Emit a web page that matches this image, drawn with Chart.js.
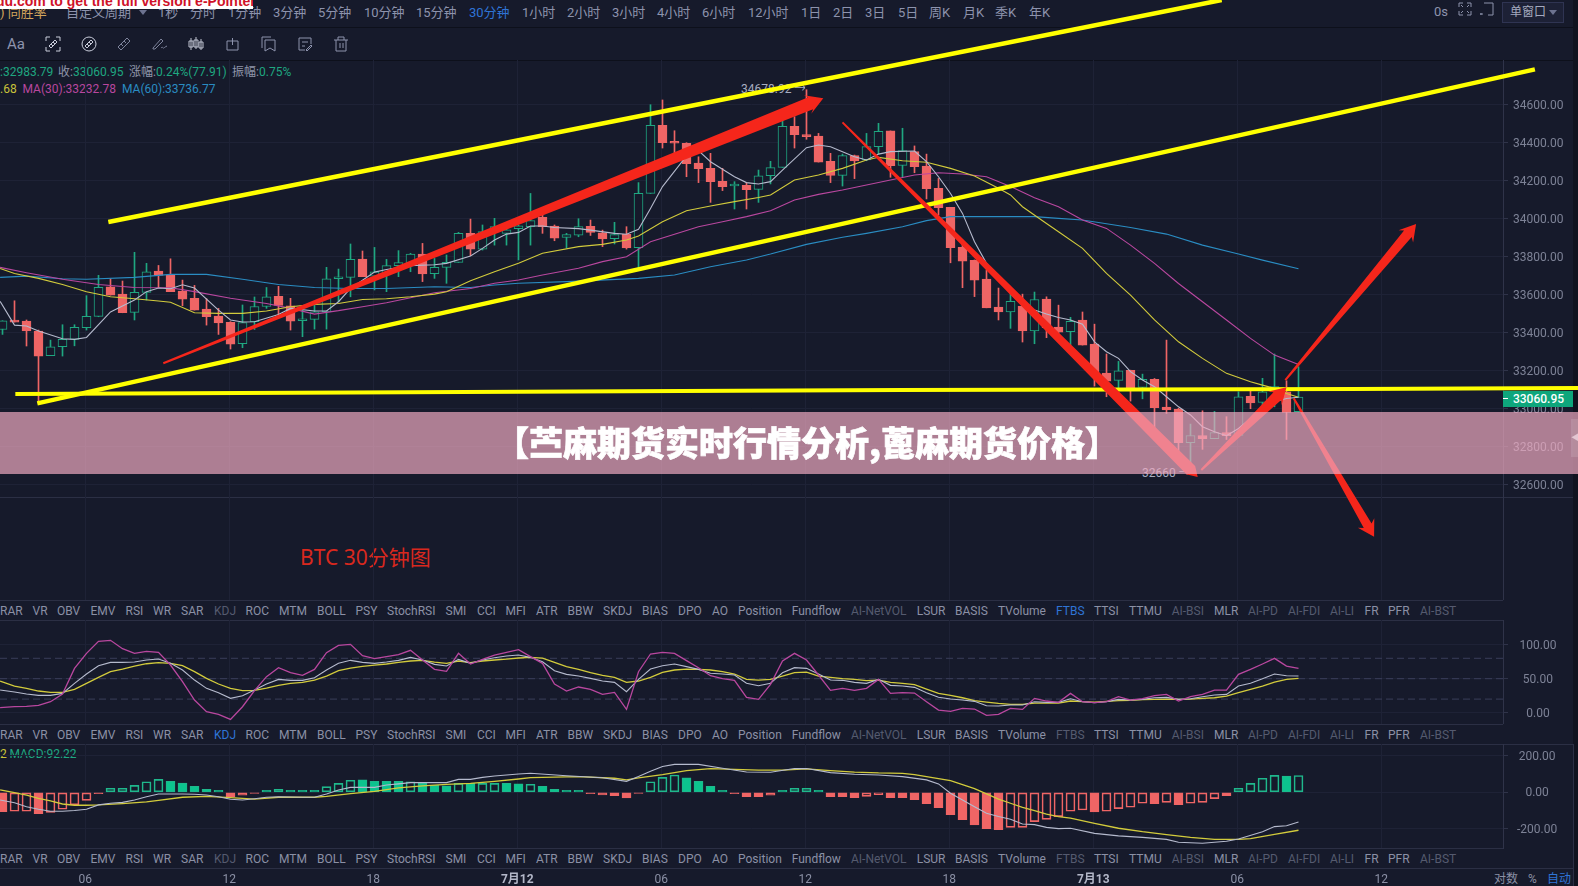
<!DOCTYPE html>
<html><head><meta charset="utf-8">
<script src="https://cdn.jsdelivr.net/npm/chart.js@4"></script>
<style>
html,body{margin:0;padding:0;background:#161a2b;width:1578px;height:886px;overflow:hidden}
#root{position:relative;width:1578px;height:886px;overflow:hidden;font-family:Roboto,"Noto Sans CJK SC",sans-serif}
.t{position:absolute;white-space:nowrap;line-height:16px;transform:translateY(-8px)}
.hl{position:absolute;left:0;height:1px;background:#2b2f44}
canvas{position:absolute;left:0;pointer-events:none}
</style></head><body><div id="root">
<canvas id="main" width="1578" height="600" style="top:0;z-index:3;width:1578px;height:600px"></canvas>
<canvas id="kdj" width="1578" height="104" style="top:620px;z-index:2;width:1578px;height:104px"></canvas>
<canvas id="macd" width="1578" height="142" style="top:744px;z-index:2;width:1578px;height:142px"></canvas>
</div>
<script>
// ---- candles (30 min), index 0..108
const opens=[33417,33467,33461,33409,33279,33326,33365,33426,33486,33642,33603,33507,33612,33724,33703,33619,33581,33524,33488,33454,33342,33458,33538,33591,33542,33463,33470,33510,33684,33691,33788,33698,33704,33753,33765,33814,33711,33744,33770,33923,33840,33940,33923,33948,33958,34007,33961,33902,33914,33960,33926,33895,33918,33847,34133,34491,34402,34397,34293,34265,34197,34172,34176,34154,34226,34270,34486,34442,34435,34302,34228,34332,34309,34379,34462,34281,34353,34277,34160,34060,33849,33781,33682,33535,33510,33540,33410,33577,33430,33405,33467,33340,33188,33149,33202,33112,33154,33009,32998,32821,32859,32842,32875,32859,33065,33033,33089,33089,32983.79];
const closes=[33463,33456,33409,33277,33326,33365,33428,33486,33639,33598,33505,33612,33721,33702,33616,33577,33519,33484,33451,33340,33453,33538,33589,33544,33461,33470,33510,33684,33691,33786,33695,33721,33753,33769,33814,33709,33744,33770,33923,33840,33932,33958,33941,33962,33990,33958,33898,33916,33958,33928,33893,33916,33846,34133,34491,34400,34397,34290,34263,34195,34169,34177,34153,34226,34269,34486,34442,34432,34298,34228,34332,34304,34379,34460,34279,34358,34274,34158,34058,33847,33777,33677,33531,33509,33565,33409,33575,33426,33403,33460,33335,33182,33145,33200,33107,33154,33005,32993,32821,32859,32842,32875,32858,33063,33031,33089,33116,32981,33060.95];
const highs=[33463,33568,33467,33414,33361,33442,33442,33595,33702,33684,33672,33823,33765,33754,33789,33677,33649,33579,33528,33458,33546,33588,33638,33644,33581,33537,33546,33744,33735,33867,33830,33849,33786,33832,33818,33870,33791,33809,33928,33998,33967,34002,33951,33965,34133,34028,33967,33923,34000,33993,33940,33981,33958,34190,34600,34625,34463,34400,34326,34344,34265,34195,34190,34256,34302,34523,34537,34678.92,34449,34344,34340,34335,34449,34502,34462,34476,34383,34340,34212,34060,33870,33783,33730,33635,33603,33603,33614,33589,33545,33481,33509,33445,33288,33249,33203,33182,33159,33361,33002,32919,32989,32986,32958,33089,33093,33160,33288,33147,33221];
const lows=[33391,33456,33330,33031,33279,33277,33331,33414,33484,33598,33505,33467,33572,33638,33616,33542,33519,33440,33391,33314,33321,33417,33528,33493,33414,33379,33419,33419,33563,33589,33695,33625,33616,33695,33721,33669,33686,33660,33770,33805,33835,33861,33861,33783,33861,33923,33884,33846,33905,33912,33853,33867,33840,33739,34133,34372,34347,34221,34190,34086,34148,34051,34051,34086,34183,34270,34372,34418,34298,34190,34172,34211,34305,34340,34218,34221,34242,34104,34019,33768,33637,33590,33531,33467,33423,33351,33342,33374,33396,33335,33335,33119,33063,33107,33040,33052,32835,32975,32768,32660,32786,32842,32838,32858,33000,32984,33010,32838,32983];

// ---- moving averages: candle index + price
const ma5K=[-0.2,1,2,3,5,6,7,9,11,12,13,14,15,16,18,19,20,21,23,24,26,27,28,29,31,32,34,36,37,39,40,41,42,43,44,45,46,48,49,51,52,53,54,55,57,58,59,61,62,63,64,65,67,68,69,71,72,73,74,76,77,78,79,80,81,82,83,84,85,86,87,88,89,90,91,92,93,94,95,96,97,98,99,100,101,102,103,104,105,106,107,108];
const ma5P=[33565,33440,33435,33409,33368,33365,33375,33509,33572,33616,33635,33631,33652,33635,33519,33467,33456,33458,33496,33528,33514,33514,33563,33633,33719,33733,33753,33758,33765,33804,33844,33888,33919,33928,33962,33962,33954,33948,33940,33923,33918,33944,34054,34169,34330,34358,34300,34221,34190,34183,34195,34256,34374,34388,34379,34326,34309,34340,34353,34356,34300,34221,34133,34028,33879,33765,33677,33607,33545,33519,33498,33480,33467,33445,33352,33300,33265,33195,33151,33116,33063,33010,32967,32905,32879,32858,32896,32949,33002,33037,33054,33060];
const ma10K=[-0.2,1,3,5,7,9,11,13,14,16,18,20,22,24,26,28,30,32,34,36,37,39,41,43,45,48,50,52,53,55,57,59,61,63,64,66,68,70,72,73,75,77,79,81,83,84,85,87,88,90,92,94,96,98,100,102,104,105,106,107,108];
const ma10P=[33738,33712,33686,33654,33616,33589,33579,33567,33560,33505,33502,33502,33514,33537,33549,33554,33575,33579,33589,33603,33616,33674,33721,33765,33818,33853,33865,33888,33909,33984,34042,34067,34090,34112,34125,34204,34230,34265,34309,34323,34305,34297,34265,34225,34160,34125,34063,33975,33931,33844,33712,33598,33467,33352,33265,33186,33142,33124,33107,33080,33060];
const ma30K=[-0.2,2,5,8,11,14,16,19,22,24,26,28,30,32,34,36,39,41,43,45,48,50,52,54,56,58,60,62,64,66,68,70,72,74,76,78,80,82,84,86,88,90,92,94,96,98,100,102,104,106,108];
const ma30P=[33744,33716,33681,33654,33638,33637,33616,33581,33554,33528,33498,33516,33537,33558,33584,33610,33633,33660,33677,33704,33739,33774,33800,33879,33918,33958,33984,34011,34042,34098,34128,34151,34177,34204,34230,34242,34235,34221,34169,34110,34063,33993,33949,33861,33765,33659,33563,33467,33370,33282,33232.78];
const ma60K=[-0.2,2,5,7,11,14,17,20,23,26,29,32,36,39,41,43,47,53,56,59,62,64,67,70,72,75,77,79,82,86,88,90,94,97,100,103,105,108];
const ma60P=[33691,33698,33684,33681,33691,33707,33707,33681,33654,33638,33633,33633,33642,33638,33651,33660,33669,33686,33704,33747,33783,33814,33865,33902,33923,33958,33990,34011,34011,34011,34002,33993,33954,33919,33861,33814,33782,33736.77];

// ---- hand-drawn yellow lines: candle index + price
const channelTopK=[8.82,101.6], channelTopP=[33983,35151];
const channelLowK=[2.9,127.7], channelLowP=[33028,34786];
const supportK=[1.07,19.8,38.4,74.8,112.6,131.3], supportP=[33077,33083,33088,33098,33104,33109];
// ---- hand-drawn red arrows: candle index + price of tail and tip
const arrowTailK=[13.4,70.0,99.9,106.9,107.6], arrowTailP=[33239,34507,32677,33151,33055];
const arrowTipK=[68.4,99.6,107.0,117.8,114.3], arrowTipP=[34634,32641,33113,33972,32326];

// ---- KDJ
const kdjJ=[7.4,8.8,9.3,10.8,16.2,27.5,65.2,87.3,104.9,106.4,94.1,87.3,90.2,88.7,70.1,45.6,18.6,1.5,-2.4,-9.8,8.8,32.4,53,66.2,58.8,54.9,63.7,88.2,99,100.5,83.8,79.4,82.4,85.3,91.7,77.5,63.7,60.8,87.3,71.6,78.4,84.8,88.7,92.7,82.4,72.6,42.2,31.9,37.8,34.3,27,29.9,4.9,60.3,86.3,88.7,87.3,76.5,66.2,54.4,50,47.6,22.6,19.6,41.7,76,87.3,77.5,55.4,32.9,35.8,32.9,35.8,49,28.4,29.4,28.9,16.2,3.9,2,6.4,5.4,-3.9,-2.4,6.4,4.9,21.1,17.2,15.2,28.4,16.2,14.7,16.2,23.5,18.6,20.6,25,27,17.2,23.5,27,33.3,33.3,56.4,63.7,71.6,79.9,68.6,65.2];
const kdjK=[33.3,30.4,27.5,25.5,25.5,28.4,43.2,56.9,69.1,74,74,74.5,77.5,78.9,72.6,62.8,48,35.8,29.4,21.1,25,33.3,42.2,49,47.6,47.6,51.5,62.8,72.6,77,74,72.6,74.5,77,81.4,77.5,71.1,68.6,78.4,72.6,77.5,80.9,83.3,84.8,81.4,75,61.8,56.4,53.9,50.5,46.6,44.6,30.9,49,64.2,69.1,71.6,67.7,63.7,57.9,56.9,55.4,43.2,39.7,43.2,58.8,66.2,65.2,56.9,48,47.6,44.6,43.2,49,40.2,39.2,37.3,29.4,22.6,20.1,18.6,16.7,10.3,9.8,11.3,11.3,16.2,15.2,15.2,20.6,16.2,14.7,16.2,19.6,18.6,19.6,22,22.6,19.6,20.6,23.5,26,27,39.2,43.2,50,56.9,54.4,53.9];
const kdjD=[46.6,39.2,35.8,31.9,29.9,29.9,34.3,43.2,52,60.3,64.2,68.6,72,73.5,72.6,69.1,60.3,50.5,42.2,35.8,32.4,32.9,36.3,40.2,43.2,44.6,48,53.9,61.8,65.7,68.1,70.1,71.6,74,76,77,74.5,72.6,76,73.5,76,77.5,78.9,80.4,81.4,80.4,74,67.7,63.7,58.8,54.9,52,44.6,46.6,52,59.3,62.8,64.2,63.7,62.8,60.3,56.9,49,48,49,53.9,58.8,59.8,53.9,52,50,49,47.1,48,44.6,43.2,41.2,34.8,28.4,25.5,22,17.7,15.7,13.7,12.3,12.3,14.2,14.2,14.2,17.2,16.2,15.7,16.7,17.7,18.1,19.1,19.6,20.1,19.6,20.1,21.1,22,24.5,29.4,34.3,39.2,45.1,49,50.5];
const kdjLevels=[80,50,20];

// ---- MACD
const macdHist=[-106,-104,-104,-117,-110,-93,-69,-44,-8,22,22,38,58,71,60,51,33,16,11,-24,-16,-6,11,16,11,11,11,31,49,66,68,60,60,60,58,53,38,35,49,49,49,49,49,46,44,33,16,11,11,-7,-15,-18,-31,-6,58,82,95,79,60,33,11,-7,-24,-24,-16,11,22,22,11,-24,-24,-29,-22,-13,-29,-29,-40,-62,-84,-122,-150,-179,-199,-205,-192,-192,-161,-148,-133,-104,-97,-108,-104,-89,-82,-60,-62,-55,-68,-60,-55,-35,-18,22,49,77,93,89,92.22];
const macdHollow=[1,2,4,5,6,7,9,10,11,12,13,20,23,27,28,29,34,38,40,41,44,54,55,56,64,66,67,72,73,84,85,86,87,88,89,90,92,93,94,95,97,99,100,101,102,103,104,105,106,108];
const difK=[-0.2,1,2,3,4,5,6,7,8,9,10,11,12,13,15,16,17,18,19,20,21,22,23,25,26,27,28,29,31,32,33,34,37,38,39,40,41,43,44,47,50,52,53,54,55,56,58,60,62,64,66,67,69,71,73,75,77,78,79,80,81,82,83,84,85,86,87,88,89,91,93,95,97,98,100,102,103,105,106,107,108];
const difV=[-42,-57,-79,-93,-104,-104,-100,-93,-69,-60,-55,-42,-24,-9,-9,-11,-15,-24,-38,-42,-35,-27,-24,-27,-27,-9,13,27,27,40,46,53,53,71,71,82,89,100,104,91,80,60,86,115,141,153,153,132,111,110,130,130,108,99,95,86,68,46,-5,-42,-79,-115,-133,-148,-174,-177,-192,-199,-197,-225,-239,-247,-258,-274,-279,-268,-256,-216,-188,-183,-163];
const deaK=[-0.2,1,2,3,4,5,6,7,8,10,12,13,15,17,19,21,23,26,27,29,31,33,35,37,39,41,43,44,48,51,52,53,55,57,59,61,63,65,67,69,71,73,75,76,78,79,81,83,84,85,86,87,88,89,91,93,95,97,99,101,103,104,106,108];
const deaV=[13,-2,-16,-33,-47,-64,-71,-71,-69,-62,-53,-44,-27,-22,-29,-37,-27,-27,-22,-7,5,24,35,44,49,60,73,80,86,77,68,79,97,119,130,126,121,121,128,119,111,106,104,97,75,64,20,-37,-60,-82,-100,-119,-133,-142,-170,-197,-216,-232,-247,-258,-258,-254,-230,-208];

// ---- tick labels
const xTickPos=[6.9,18.9,30.9,42.9,54.9,66.9,78.9,90.9,102.9,114.9];
const xTickLabels=['06','12','18','7月12','06','12','18','7月13','06','12'];
const priceTicks=[32600,32800,33000,33200,33400,33600,33800,34000,34200,34400,34600];
const kdjTicks=[0,50,100];
const macdTicks=[-200,0,200];

// ---- text content
const periods=[['自定义周期',66],['1秒',158],['分时',190],['1分钟',228],['3分钟',273],['5分钟',318],['10分钟',364],['15分钟',416],['30分钟',469],['1小时',522],['2小时',567],['3小时',612],['4小时',657],['6小时',702],['12小时',748],['1日',801],['2日',833],['3日',865],['5日',898],['周K',929],['月K',963],['季K',995],['年K',1029]];
const tabs=[['RAR',0],['VR',32.5],['OBV',57],['EMV',90.5],['RSI',125.5],['WR',153],['SAR',181],['KDJ',214],['ROC',245.5],['MTM',279],['BOLL',317],['PSY',355.5],['StochRSI',387],['SMI',445.5],['CCI',477],['MFI',505.5],['ATR',536],['BBW',567.5],['SKDJ',603],['BIAS',642],['DPO',678],['AO',712],['Position',738],['Fundflow',791.7],['AI-NetVOL',851],['LSUR',916.7],['BASIS',955],['TVolume',998],['FTBS',1056],['TTSI',1094],['TTMU',1129],['AI-BSI',1171.7],['MLR',1214],['AI-PD',1248],['AI-FDI',1288],['AI-LI',1330],['FR',1364.5],['PFR',1388],['AI-BST',1420]];

// ---- palette
const BG='#161a2b',GRID='#1e2236',AXIS='#2f3349',TICK='#7d8296',UP='#1fa781',DOWN='#ef6565',UPF='#0cc48e';
const YEL='#d2cb3c',MAG='#b9479f',BLU='#2a8cc2',WHT='#b5bacd',BRIGHT='#ffff00',RED='#f5261b';
const FONT='Roboto,"Noto Sans CJK SC",sans-serif';

const root=document.getElementById('root');
function T(txt,x,y,color,size,extra){const e=document.createElement('div');e.className='t';e.textContent=txt;
 e.style.cssText=`left:${x}px;top:${y}px;color:${color};font-size:${size||12}px;z-index:1;`+(extra||'');root.appendChild(e);return e;}
function HL(y,w,c,z){const e=document.createElement('div');e.className='hl';e.style.cssText=`top:${y}px;width:${w}px;`+(c?`background:${c};`:'')+`z-index:${z||1}`;root.appendChild(e);}

// --- static chrome
[[27,1578,'#0d101b'],[60,1578,'#0d101b'],[497,1573],[600,1503],[620,1503],[724,1503],[744,1573],[848,1503],[868,1573]].forEach(a=>HL(a[0],a[1],a[2]));
const strip=document.createElement('div');strip.style.cssText='position:absolute;left:1573px;top:0;width:5px;height:886px;background:#10131f;z-index:1';root.appendChild(strip);
const vl=document.createElement('div');vl.style.cssText='position:absolute;left:1573px;top:744px;width:1px;height:142px;background:#2b2f44;z-index:1';root.appendChild(vl);

T(') 同胜率',0,12.5,'#d2a45c',13);
periods.forEach(p=>T(p[0],p[1],12.5,p[0]==='30分钟'?'#2f74d6':'#8d93ad',13));
const car=document.createElement('div');car.style.cssText='position:absolute;left:139px;top:10px;border:4px solid transparent;border-top:5px solid #6d7390;z-index:1';root.appendChild(car);
T('0s',1434,12,'#8d93ad',13);
const btn=document.createElement('div');btn.style.cssText='position:absolute;left:1502px;top:2px;width:60px;height:19px;border:1px solid #2f3452;background:#1d2136;z-index:1';root.appendChild(btn);
T('单窗口',1510,12,'#a4a9bf',12).style.zIndex=2;
const car2=document.createElement('div');car2.style.cssText='position:absolute;left:1549px;top:10px;border:4px solid transparent;border-top:5px solid #6d7390;z-index:2';root.appendChild(car2);

// toolbar icons
const svgs=[
 [1458,'<path d="M1 5V1h4M9 1h4v4M13 9v4H9M5 13H1V9M3 3l2 2M11 3L9 5M3 11l2-2M11 11L9 9" />','#8d93ad',2,],
 [1480,'<path d="M4 1h9v12H8M1 11v2M0 12h3" />','#8d93ad',2],
 [45,'<path d="M1 5V1h4M11 1h4v4M15 11v4h-4M5 15H1v-4M4 10L10 4l2 2-6 6zM6 8l2 2M8 6l2 2" />','#c9cddb',36],
 [81,'<circle cx="8" cy="8" r="7"/><path d="M4 10L10 4l2 2-6 6zM6 8l2 2M8 6l2 2" />','#c9cddb',36],
 [116,'<path d="M2 11L11 2l3 3-9 9zM5 8l2 2M8 5l2 2" />','#7e849c',36],
 [151,'<path d="M2 12L10 3l2 2-8 8-2 0zM10 12c2-2 2 1 3 0s1-1 3-2" />','#7e849c',36],
 [188,'<path d="M3 2v12M1 5h4v6H1zM8 1v12M6 4h4v7H6zM13 3v11M11 6h4v6h-4z" />','#c0c4d2',36],
 [225,'<path d="M2 5h11v9H2zM7.5 2v7" />','#8d93ad',36],
 [261,'<path d="M1 1h9M1 1v11M4 4h10v11l-5-3-5 3z" />','#8d93ad',36],
 [297,'<path d="M2 2h12v6M2 2v12h6M5 6h6M5 10h3M9 14l5-5 1 1-5 5z" />','#8d93ad',36],
 [333,'<path d="M1 4h14M5 4V1h6v3M3 4v11h10V4M7 7v5M10 7v5" />','#8d93ad',36]
];
svgs.forEach(s=>{const d=document.createElement('div');d.style.cssText=`position:absolute;left:${s[0]}px;top:${s[3]}px;width:16px;height:16px;z-index:1`;
 d.innerHTML=`<svg width="16" height="16" viewBox="0 0 16 16" fill="none" stroke="${s[2]}" stroke-width="1">${s[1]}</svg>`;root.appendChild(d);});
T('Aa',7,44,'#8d93ad',15);

// headers
T(':32983.79',0,72,UP);T('收:',58,72,'#9096aa');T('33060.95',73,72,UP);T('涨幅:',129,72,'#9096aa');T('0.24%(77.91)',156,72,UP);T('振幅:',232,72,'#9096aa');T('0.75%',259,72,UP);
T('.68',0,89,'#c9c23a');T('MA(30):33232.78',22.5,89,'#b9479f');T('MA(60):33736.77',122,89,'#2a8cc2');
T('34678.92 →',741,89,'#a7adc0');T('32660 →',1142,473,'#a7adc0');
T('2',0,754,'#c9c23a');T('MACD:92.22',9.5,754,UP);
T('BTC 30分钟图',300,556.5,'#d9281e',21,'font-family:"Noto Sans","Noto Sans CJK SC",sans-serif;line-height:30px;transform:translateY(-15px)');

// tab rows
const dim=n=>n.startsWith('AI-');
[[610.5,'FTBS'],[734.5,'KDJ'],[858.5,null]].forEach(r=>tabs.forEach(t=>{
 let c='#8b90a5';
 if(dim(t[0])||t[0]==='KDJ'||t[0]==='FTBS')c='#555a6f';
 if(t[0]===r[1])c='#2f74d6';
 T(t[0],t[1],r[0],c,12);}));
T('对数',1494,879,'#8b90a5',12);T('%',1528,879,'#8b90a5',12);T('自动',1547,879,'#2f74d6',12);

// watermark
const wm=document.createElement('div');wm.style.cssText='position:absolute;left:0;top:0;width:253px;height:9px;background:#fff;overflow:hidden;z-index:5';
wm.innerHTML='<div style="position:absolute;left:-4px;top:-6px;color:#cf1229;font:bold 14px/14px \'Liberation Sans\',sans-serif;white-space:nowrap">du.com to get the full version e-Pointer.</div>';root.appendChild(wm);

// last price tag
const tag=document.createElement('div');tag.style.cssText='position:absolute;left:1503px;top:391px;width:70px;height:16px;background:#0ea67c;color:#fff;font:500 12px/16px Roboto;text-align:center;padding-left:1px;box-sizing:border-box;z-index:4';tag.textContent='33060.95';root.appendChild(tag);
const tk=document.createElement('div');tk.style.cssText='position:absolute;left:1503px;top:398px;width:5px;height:1px;background:#fff;z-index:4';root.appendChild(tk);

// title band
const band=document.createElement('div');band.style.cssText='position:absolute;left:0;top:412px;width:1578px;height:62px;background:rgba(238,170,193,.7);z-index:6';root.appendChild(band);
const hand=document.createElement('div');hand.style.cssText='position:absolute;left:1571px;top:419px;width:7px;height:38px;background:rgba(255,255,255,.12);z-index:7;color:#e3c6d2;font-size:8px;line-height:38px';hand.textContent='◀';root.appendChild(hand);
const ttl=document.createElement('div');ttl.style.cssText='position:absolute;left:0;width:1614px;top:412px;height:62px;text-align:center;color:#fff;font:900 34px/60px "Noto Sans CJK SC",sans-serif;z-index:7;white-space:nowrap;-webkit-text-stroke:.7px #fff';ttl.textContent='【苎麻期货实时行情分析,蓖麻期货价格】';root.appendChild(ttl);

// --- chart helpers
const xMin=-0.2083,xMax=125.0417;
const pts=(ks,vs)=>ks.map((k,i)=>({x:k,y:vs[i]}));
const idx=a=>a.map((v,i)=>({x:i===0?-0.2:i,y:v}));
const line=(data,color,w,order,extra)=>Object.assign({type:'line',data,borderColor:color,borderWidth:w,pointRadius:0,tension:0,fill:false,order,clip:false},extra||{});
function xAxis(opts){return Object.assign({type:'linear',min:xMin,max:xMax,offset:false,
  grid:{color:GRID,drawTicks:false,offset:false},border:{display:false},
  ticks:{display:false},
  afterBuildTicks:s=>{s.ticks=xTickPos.map(v=>({value:v}));},
  afterFit:s=>{s.height=0;s.paddingLeft=0;s.paddingRight=0;}},opts||{});}
function yAxis(min,max,ticks,pad,extra){return Object.assign({type:'linear',position:'right',min,max,
  grid:{color:GRID,tickColor:AXIS,tickLength:5},border:{display:true,color:AXIS},
  ticks:{color:TICK,font:{family:FONT,size:12},padding:pad,crossAlign:'center',callback:v=>v.toFixed(2)},
  afterBuildTicks:s=>{s.ticks=ticks.map(v=>({value:v}));},
  afterFit:s=>{s.width=75;s.paddingTop=0;s.paddingBottom=0;}},extra||{});}
const baseOpts=(scales,padTop)=>({responsive:false,animation:false,events:[],devicePixelRatio:1,
  layout:{padding:{top:padTop||0,left:0,right:0,bottom:0}},plugins:{legend:{display:false},tooltip:{enabled:false}},scales});
// nudge the price labels one pixel down, as in the original platform's text metrics
const labelNudge={id:'labelNudge',beforeDraw(c){if(c.$nudged)return;c.$nudged=true;c.scales.y.getLabelItems().forEach(it=>{it.options.translation[1]+=1;});}};

// arrows drawn through the chart's own scales
const arrowShape=[[2,13,17,10],[2,12,12,7.5],[2,11,16,9.5],[2,10,16,9.5],[2,9,16,9.5]];
const arrowPlugin={id:'arrows',afterDatasetsDraw(c){
  const X=c.scales.x,Y=c.scales.y,g=c.ctx;g.save();g.fillStyle=RED;
  arrowTipK.forEach((_,i)=>{
    const x0=X.getPixelForValue(arrowTailK[i]),y0=Y.getPixelForValue(arrowTailP[i]),x1=X.getPixelForValue(arrowTipK[i]),y1=Y.getPixelForValue(arrowTipP[i]);
    const L=Math.hypot(x1-x0,y1-y0),ux=(x1-x0)/L,uy=(y1-y0)/L,nx=-uy,ny=ux;
    const [w0,w1,hl,hw]=arrowShape[i];
    const bx=x1-ux*hl,by=y1-uy*hl,nk=x1-ux*hl*.8,nkY=y1-uy*hl*.8;
    g.beginPath();
    g.moveTo(x0+nx*w0/2,y0+ny*w0/2);
    g.lineTo(nk+nx*w1/2,nkY+ny*w1/2);
    g.lineTo(bx+nx*hw,by+ny*hw);
    g.lineTo(x1,y1);
    g.lineTo(bx-nx*hw,by-ny*hw);
    g.lineTo(nk-nx*w1/2,nkY-ny*w1/2);
    g.lineTo(x0-nx*w0/2,y0-ny*w0/2);
    g.closePath();g.fill();
  });g.restore();}};

// --- main price chart
const isUp=i=>closes[i]>=opens[i];
const colC=opens.map((_,i)=>isUp(i)?UP:DOWN);
new Chart(document.getElementById('main'),{type:'bar',plugins:[arrowPlugin,labelNudge],data:{datasets:[
  {type:'bar',data:highs.map((h,i)=>({x:i,y:[lows[i],h]})),backgroundColor:colC,barThickness:1,grouped:false,order:10},
  {type:'bar',data:opens.map((o,i)=>({x:i,y:[o,closes[i]]})),backgroundColor:opens.map((_,i)=>isUp(i)?BG:DOWN),borderColor:colC,borderWidth:1,borderSkipped:false,barThickness:9,minBarLength:2,grouped:false,order:9},
  line(pts(ma60K,ma60P),BLU,1.1,8),line(pts(ma30K,ma30P),MAG,1.1,7),line(pts(ma10K,ma10P),YEL,1.1,6),line(pts(ma5K,ma5P),WHT,1.1,5),
  line(pts(channelTopK,channelTopP),BRIGHT,4.5,4,{borderCapStyle:'butt'}),
  line(pts(channelLowK,channelLowP),BRIGHT,4.5,3),
  line(pts(supportK,supportP),BRIGHT,4,2)
]},options:baseOpts({x:xAxis(),y:yAxis(31993.2,34835.3,priceTicks,5)},60)});

// --- KDJ
new Chart(document.getElementById('kdj'),{type:'line',plugins:[labelNudge],data:{datasets:[
  ...kdjLevels.map(v=>line([{x:xMin,y:v},{x:xMax,y:v}],'#3a3e5a',1,9,{borderDash:[7,4]})),
  line(idx(kdjD),YEL,1.3,3),line(idx(kdjK),WHT,1.1,2),line(idx(kdjJ),MAG,1.3,1)
]},options:baseOpts({x:xAxis(),y:yAxis(-16.6,136.3,kdjTicks,11.5)})});

// --- MACD with the time axis
const hollow=new Set(macdHollow);
const macdCol=macdHist.map(v=>v>=0?'#1fb88c':'#ef6565');
new Chart(document.getElementById('macd'),{type:'bar',plugins:[labelNudge],data:{datasets:[
  {type:'bar',data:macdHist.map((v,i)=>({x:i,y:[0,v]})),backgroundColor:macdHist.map((v,i)=>hollow.has(i)?'rgba(0,0,0,0)':(v>=0?UPF:DOWN)),borderColor:macdCol,borderWidth:1,borderSkipped:false,barThickness:9,grouped:false,order:9},
  line(pts(deaK,deaV),YEL,1.3,2),line(pts(difK,difV),WHT,1.1,1)
]},options:baseOpts({
  x:xAxis({ticks:{display:true,autoSkip:false,maxRotation:0,minRotation:0,padding:25,
     color:c=>xTickLabels[c.index]&&xTickLabels[c.index].includes('月')?'#b3b7c8':'#8b90a5',
     font:c=>({family:FONT,size:12,weight:xTickLabels[c.index]&&xTickLabels[c.index].includes('月')?'bold':'normal'}),
     callback:(v,i)=>xTickLabels[i]},
     afterFit:s=>{s.height=38;s.paddingLeft=0;s.paddingRight=0;}}),
  y:yAxis(-305.2,264.7,macdTicks,9)})});
</script></body></html>
